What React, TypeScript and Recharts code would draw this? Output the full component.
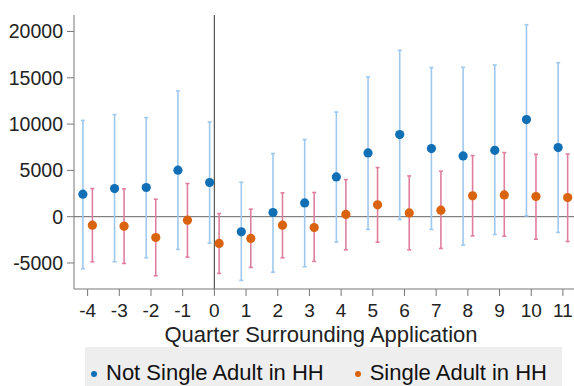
import {
  ComposedChart,
  Scatter,
  ErrorBar,
  XAxis,
  YAxis,
  ReferenceLine,
  Legend,
} from 'recharts'

const quarters = [-4, -3, -2, -1, 0, 1, 2, 3, 4, 5, 6, 7, 8, 9, 10, 11]

// Not Single Adult in HH
const notSingleMean = [2430, 3040, 3150, 5020, 3690, -1640, 450, 1490, 4290, 6880, 8870, 7360, 6560, 7170, 10490, 7460]
const notSingleLow = [-5630, -4870, -4440, -3540, -2860, -6880, -5990, -5410, -2750, -1380, -300, -1380, -3070, -1920, 90, -1700]
const notSingleHigh = [10400, 11020, 10700, 13570, 10230, 3720, 6820, 8330, 11300, 15080, 17960, 16100, 16130, 16380, 20730, 16630]

// Single Adult in HH
const singleMean = [-920, -1020, -2250, -380, -2890, -2350, -920, -1170, 240, 1280, 410, 700, 2250, 2350, 2180, 2070]
const singleLow = [-4870, -5050, -6380, -4370, -6130, -5480, -4440, -4830, -3580, -2750, -3580, -3430, -2070, -2100, -2430, -2680]
const singleHigh = [3040, 3000, 1890, 3580, 340, 810, 2570, 2610, 4010, 5300, 4400, 4910, 6600, 6920, 6740, 6770]

const yTicks = [-5000, 0, 5000, 10000, 15000, 20000]

const BLUE = '#1170b5'
const BLUE_BAR = '#9fc8ee'
const ORANGE = '#d9630f'
const PINK = '#e07f9d'

const dodge = 0.15

const buildRows = (mean: number[], low: number[], high: number[], shift: number) =>
  quarters.map((q, i) => ({
    x: q + shift,
    y: mean[i],
    err: [mean[i] - low[i], high[i] - mean[i]],
  }))

const notSingleRows = buildRows(notSingleMean, notSingleLow, notSingleHigh, -dodge)
const singleRows = buildRows(singleMean, singleLow, singleHigh, dodge)

const dot = (color: string) => (props: any) =>
  <circle cx={props.cx} cy={props.cy} r={4.6} fill={color} />

const legendColors = [BLUE, ORANGE]

function renderLegend(props: any) {
  const items = props.payload || []
  return (
    <div
      style={{
        background: '#eeeeee',
        width: 477,
        height: 39,
        boxSizing: 'border-box',
        display: 'flex',
        alignItems: 'center',
        fontSize: 22,
        color: '#111',
        paddingLeft: 6,
        paddingTop: 12,
        whiteSpace: 'nowrap',
        overflow: 'hidden',
      }}
    >
      {items.map((it: any, i: number) => (
        <span
          key={i}
          style={{ display: 'flex', alignItems: 'center', marginRight: 31, flexShrink: 0 }}
        >
          <span
            style={{
              width: 6,
              height: 6,
              borderRadius: 3,
              background: legendColors[i],
              marginRight: 9,
              marginTop: 2,
              flexShrink: 0,
            }}
          />
          {it.value}
        </span>
      ))}
    </div>
  )
}

export default function App() {
  return (
    <div
      style={{
        position: 'absolute',
        left: 0,
        top: 0,
        fontFamily: '"Liberation Sans", Arial, sans-serif',
        background: '#fff',
      }}
    >
      <ComposedChart width={574} height={386} margin={{ top: 15, right: 0, left: 0, bottom: 0 }}>
        <XAxis
          type="number"
          dataKey="x"
          domain={[-4.43, 11.35]}
          ticks={quarters}
          interval={0}
          allowDataOverflow
          height={58}
          stroke="#777"
          tickSize={7}
          tickMargin={8}
          tick={{ fontSize: 19, fill: '#222' }}
          label={{
            value: 'Quarter Surrounding Application',
            position: 'insideBottom',
            offset: 5,
            dx: -3,
            fontSize: 22,
            fill: '#222',
          }}
        />
        <YAxis
          type="number"
          dataKey="y"
          domain={[-7810, 21780]}
          ticks={yTicks}
          allowDataOverflow
          width={74}
          stroke="#777"
          tickSize={7}
          tickMargin={4}
          tick={{ fontSize: 19.5, fill: '#222' }}
        />
        <ReferenceLine y={0} stroke="#666" strokeWidth={1} />
        <ReferenceLine x={0} stroke="#555" strokeWidth={1.2} />
        <Scatter
          name="Not Single Adult in HH"
          data={notSingleRows}
          fill={BLUE}
          shape={dot(BLUE)}
          isAnimationActive={false}
        >
          <ErrorBar dataKey="err" direction="y" width={2} stroke={BLUE_BAR} strokeWidth={1.6} />
        </Scatter>
        <Scatter
          name="Single Adult in HH"
          data={singleRows}
          fill={ORANGE}
          shape={dot(ORANGE)}
          isAnimationActive={false}
        >
          <ErrorBar dataKey="err" direction="y" width={2} stroke={PINK} strokeWidth={1.6} />
        </Scatter>
        <Legend
          verticalAlign="bottom"
          content={renderLegend}
          wrapperStyle={{ left: 85, width: 477, bottom: 0, height: 39 }}
        />
      </ComposedChart>
    </div>
  )
}
